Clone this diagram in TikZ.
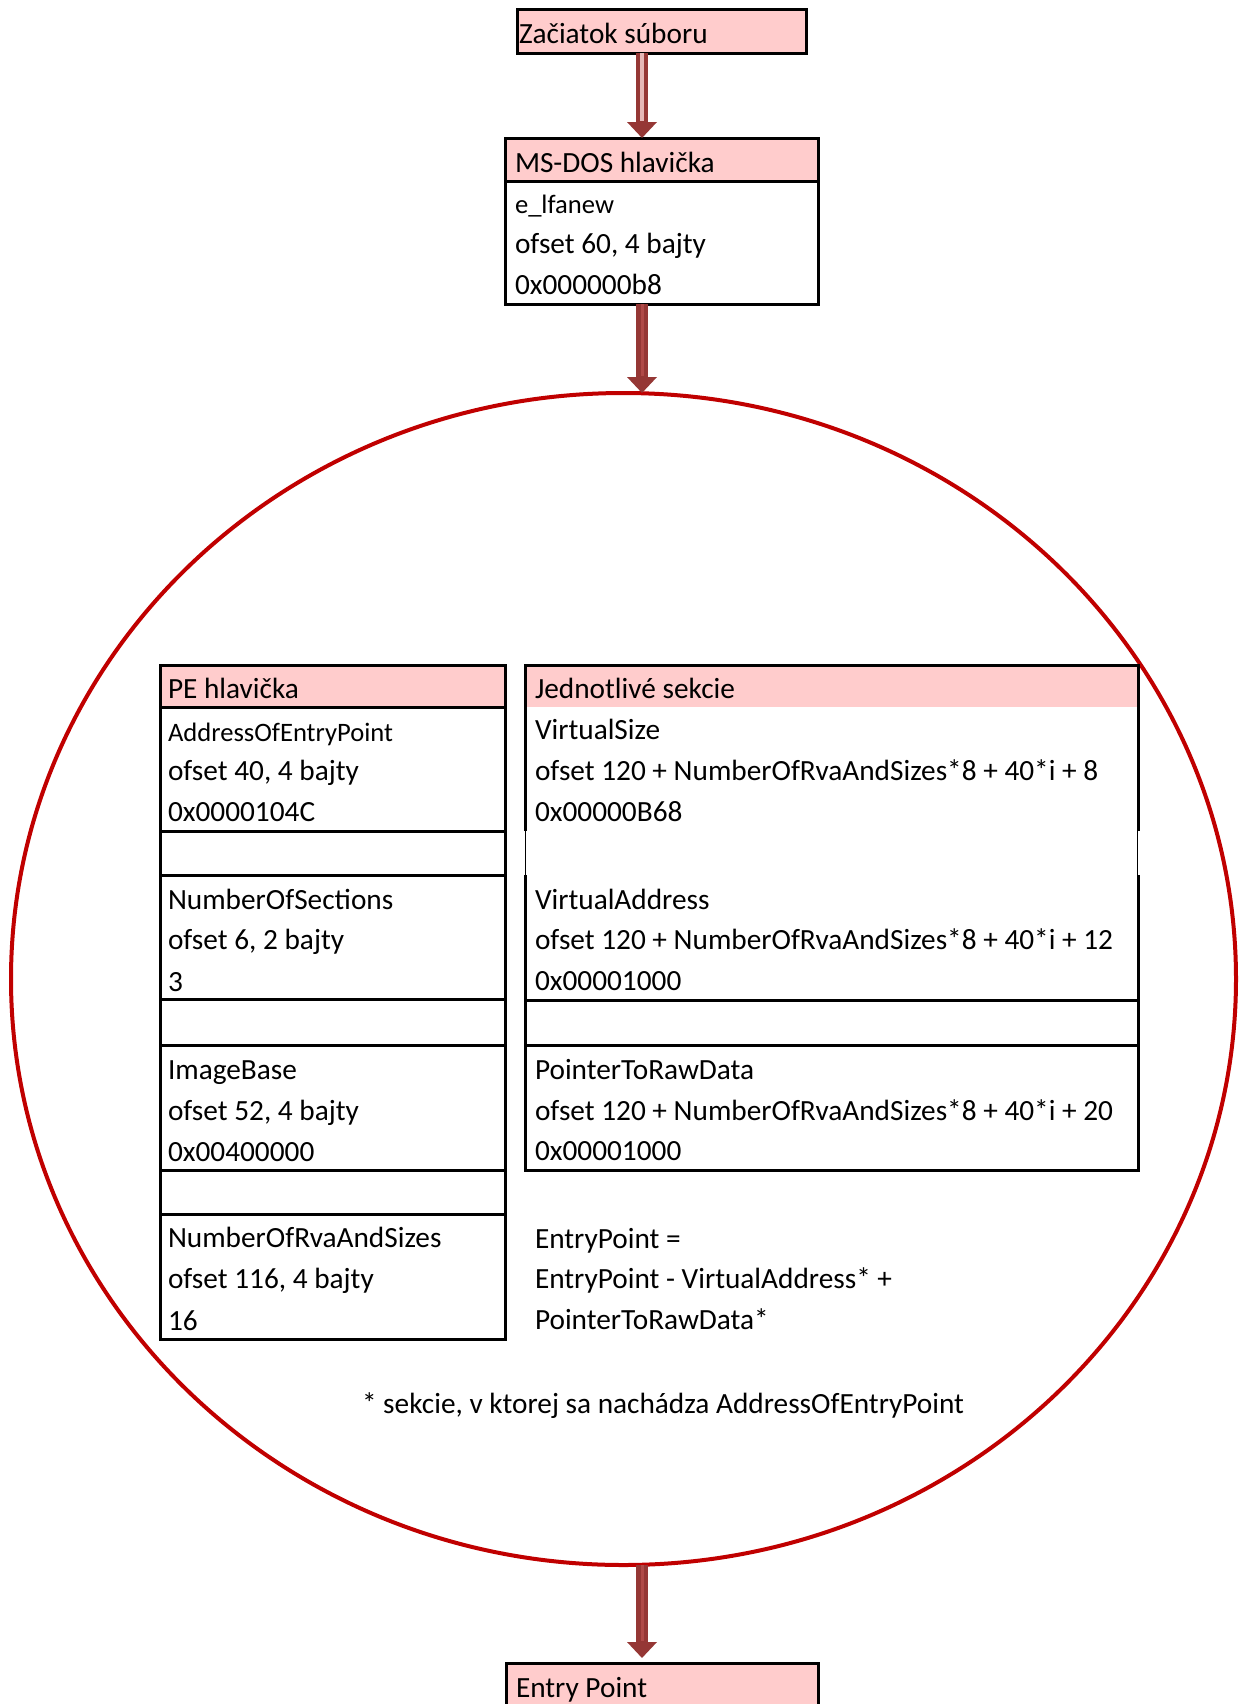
\documentclass[tikz,border=0pt]{standalone}
\usepackage{fontspec}
\setmainfont{Carlito}
\usetikzlibrary{arrows.meta,shapes.geometric}
\definecolor{hdr}{HTML}{FFCCCC}
\definecolor{arr}{HTML}{953735}
\definecolor{arrin}{HTML}{B04A48}
\definecolor{arrlt}{HTML}{E6B8B7}
\definecolor{ell}{HTML}{C00000}
\newcommand\mkcell[6]{\node[cellbox,#6,minimum width={(#4-#2)*0.5pt},minimum height={(#5-#3)*0.5pt}] (#1) at (#2,#3) {};}
\begin{document}
\begin{tikzpicture}[x=0.5pt,y=-0.5pt,
  tx/.style={anchor=base west,inner sep=0pt,outer sep=0pt,font=\fontsize{14.65pt}{17pt}\selectfont},
  txs/.style={tx,font=\fontsize{13.3pt}{16pt}\selectfont},
  cellbox/.style={rectangle,anchor=north west,inner sep=0pt,outer sep=0pt},
  bord/.style={draw=black,line width=1.5pt},
  thinbord/.style={draw=black,line width=0.6pt},
  pink/.style={fill=hdr},
  bigarrow/.style={draw=arr,line width=6pt,-{Triangle[width=14.5pt 0,length=8pt 0]}},
  stripe/.style={draw=arrin,line width=1.5pt,shorten >=8.5pt},
  stripelt/.style={draw=arrlt,line width=2pt,shorten >=8.5pt}
]
\useasboundingbox (0,0) rectangle (1239,1704);
% ellipse
\node[draw=ell,line width=2pt,ellipse,minimum width=612.5pt,minimum height=586pt,inner sep=0pt,outer sep=0pt] (pe) at (623.5,979) {};
\coordinate (axis) at (642,0);
% top boxes
\mkcell{zac}{517}{9}{806}{53}{bord,pink}
\mkcell{msh}{505}{138}{818}{181}{bord,pink}
\mkcell{msb}{505}{181}{818}{304}{bord,fill=white}
% PE table
\mkcell{pehdr}{160}{665}{505}{707}{bord,pink}
\mkcell{pe1}{160}{707}{505}{831}{bord,fill=white}
\mkcell{peg1}{160}{831}{505}{875}{bord,fill=white}
\mkcell{pe2}{160}{875}{505}{999}{bord,fill=white}
\mkcell{peg2}{160}{999}{505}{1045}{bord,fill=white}
\mkcell{pe3}{160}{1045}{505}{1170}{bord,fill=white}
\mkcell{peg3}{160}{1170}{505}{1214}{bord,fill=white}
\mkcell{pe4}{160}{1214}{505}{1339}{bord,fill=white}
% sections table
\mkcell{sA}{525}{665}{1138}{831}{fill=white}
\mkcell{shdr}{525}{665}{1138}{707}{pink}
\mkcell{sB}{525}{875}{1138}{1000}{fill=white}
\mkcell{sG}{525}{1000}{1138}{1045}{bord,fill=white}
\mkcell{sC}{525}{1045}{1138}{1170}{bord,fill=white}
\draw[bord] (sA.south west) -- (sA.north west) -- (sA.north east) -- (sA.south east);
\draw[bord] (sB.north west) -- (sB.south west) -- (sB.south east) -- (sB.north east);
\draw[thinbord] ([xshift=0.4pt]sA.south west) -- ([xshift=0.4pt]sB.north west);
\draw[thinbord] ([xshift=-0.4pt]sA.south east) -- ([xshift=-0.4pt]sB.north east);
% entry point box
\mkcell{ep}{506}{1663}{818}{1704}{pink}
\draw[bord] (ep.south west) -- (ep.north west) -- (ep.north east) -- (ep.south east);
% arrows
\draw[bigarrow] (zac.south -| axis) -- (msh.north -| axis);
\draw[stripelt] (zac.south -| axis) -- (msh.north -| axis);
\draw[bigarrow] (msb.south -| axis) -- (axis |- pe.north);
\draw[stripe] (msb.south -| axis) -- (axis |- pe.north);
\draw[bigarrow,shorten >=2.5pt] (axis |- pe.south) -- (ep.north -| axis);
\draw[stripe,shorten >=11pt] (axis |- pe.south) -- (ep.north -| axis);
% texts
\node[tx] (tzac) at (519,43) {Začiatok súboru};
\node[tx] (tms1) at (515,172) {MS-DOS hlavička};
\node[txs] (tms2) at (515,213) {e\_lfanew};
\node[tx] (tms3) at (515,253) {ofset 60, 4 bajty};
\node[tx] (tms4) at (515,294) {0x000000b8};
\node[tx] (tpe0) at (168,698) {PE hlavička};
\node[txs] (tpe1) at (168,741) {AddressOfEntryPoint};
\node[tx] (tpe2) at (168,780) {ofset 40, 4 bajty};
\node[tx] (tpe3) at (168,821) {0x0000104C};
\node[tx] (tpe4) at (168,909) {NumberOfSections};
\node[tx] (tpe5) at (168,949) {ofset 6, 2 bajty};
\node[tx] (tpe6) at (168,991) {3};
\node[tx] (tpe7) at (168,1079) {ImageBase};
\node[tx] (tpe8) at (168,1120) {ofset 52, 4 bajty};
\node[tx] (tpe9) at (168,1161) {0x00400000};
\node[tx] (tpe10) at (168,1247) {NumberOfRvaAndSizes};
\node[tx] (tpe11) at (168,1288) {ofset 116, 4 bajty};
\node[tx] (tpe12) at (168,1330) {16};
\node[tx] (ts0) at (535,698) {Jednotlivé sekcie};
\node[tx] (ts1) at (535,739) {VirtualSize};
\node[tx] (ts2) at (535,780) {ofset 120 + NumberOfRvaAndSizes*8 + 40*i + 8};
\node[tx] (ts3) at (535,821) {0x00000B68};
\node[tx] (ts4) at (535,909) {VirtualAddress};
\node[tx] (ts5) at (535,949) {ofset 120 + NumberOfRvaAndSizes*8 + 40*i + 12};
\node[tx] (ts6) at (535,990) {0x00001000};
\node[tx] (ts7) at (535,1079) {PointerToRawData};
\node[tx] (ts8) at (535,1120) {ofset 120 + NumberOfRvaAndSizes*8 + 40*i + 20};
\node[tx] (ts9) at (535,1160) {0x00001000};
\node[tx] (te1) at (535,1248) {EntryPoint =};
\node[tx] (te2) at (535,1288) {EntryPoint - VirtualAddress* +};
\node[tx] (te3) at (535,1329) {PointerToRawData*};
\node[tx] (tfoot) at (362,1413) {* sekcie, v ktorej sa nachádza AddressOfEntryPoint};
\node[tx] (tep) at (516,1697) {Entry Point};
\end{tikzpicture}
\end{document}
